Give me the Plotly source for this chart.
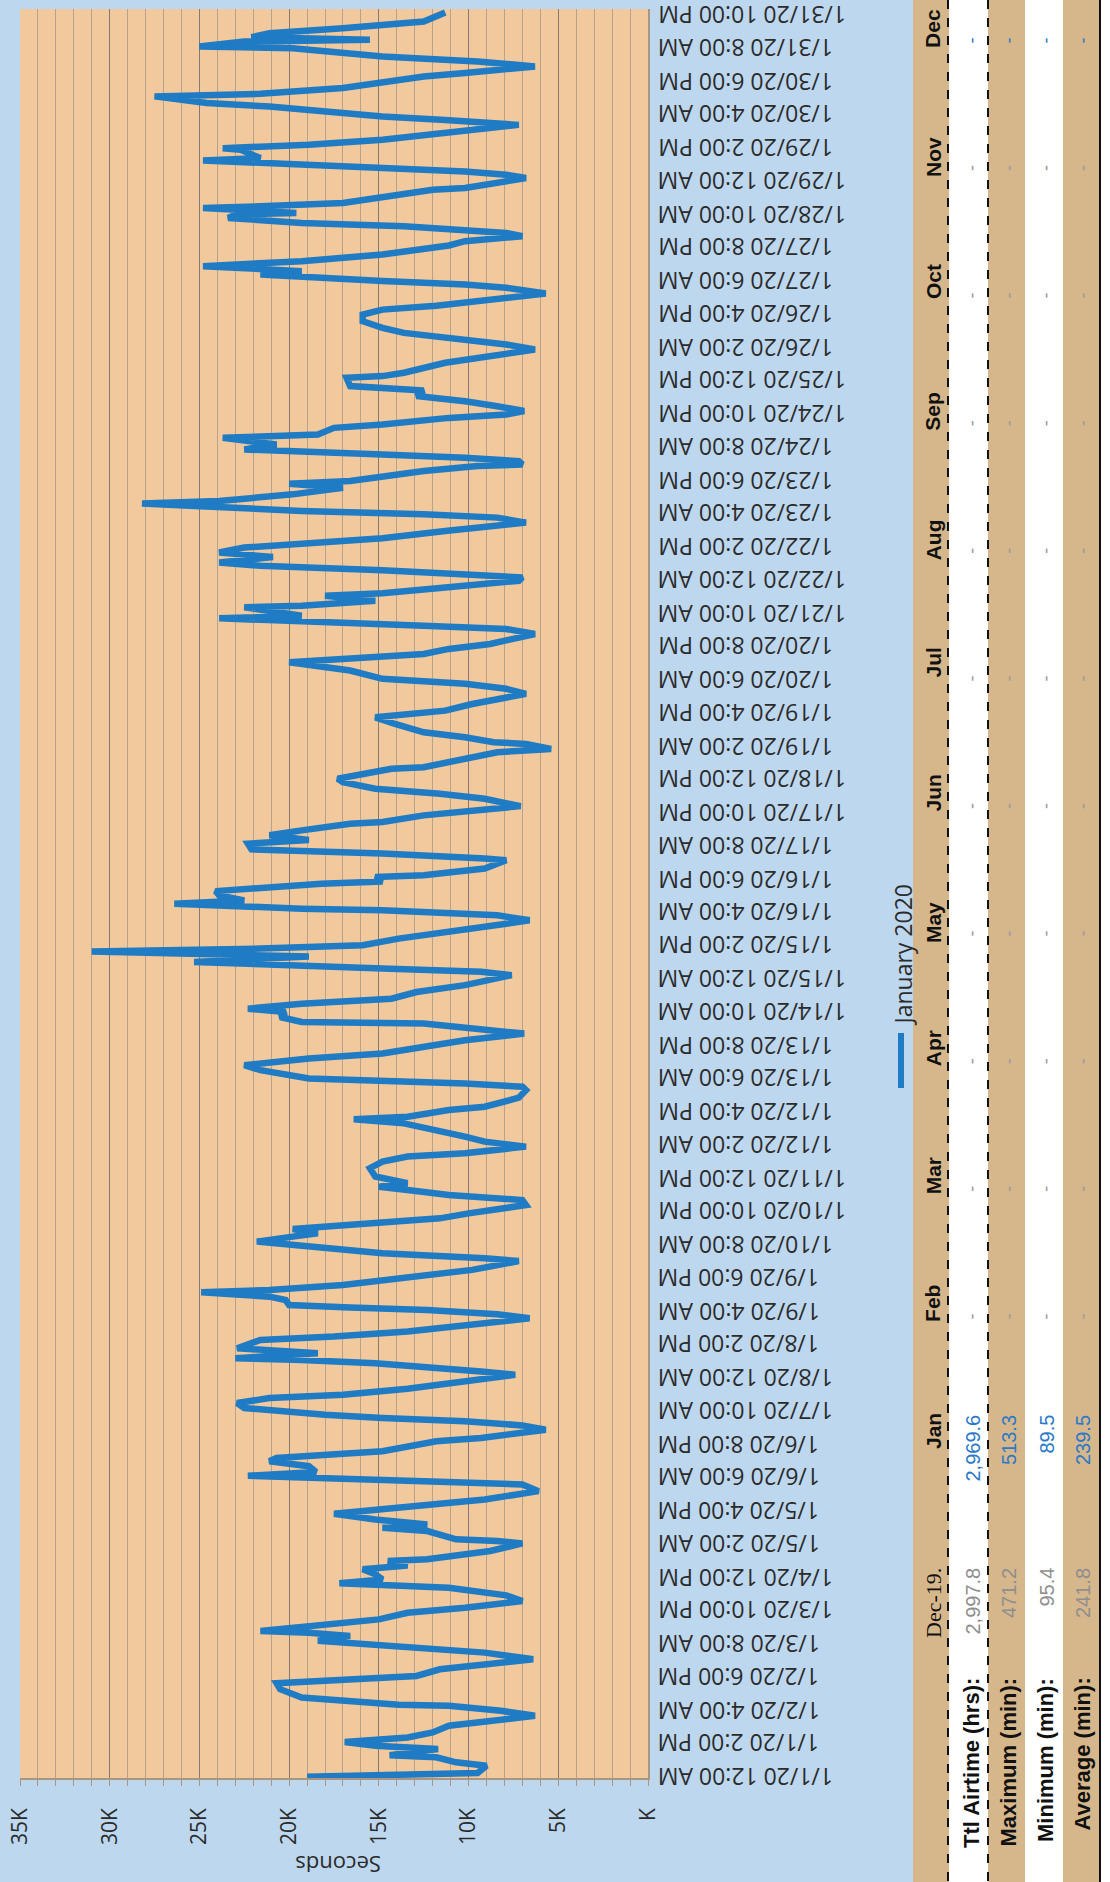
import pandas as pd
import plotly.graph_objects as go

# ---------------------------------------------------------------- data
START = pd.Timestamp("2020-01-01 00:00")

# hours after 1/1/20 12:00 AM and the airtime (seconds) read at that hour
hours = [
    0.0, 1.6, 4.7, 6.1, 8.2, 9.1, 11.7, 13.1, 14.7, 16.6, 18.7, 21.5, 25.7, 27.8, 29.9, 30.4,
    33.4, 36.9, 39.4, 40.4, 42.5, 45.3, 47.4, 49.5, 52.3, 53.7, 56.5, 57.3, 59.3, 60.7, 61.4,
    63.5, 66.3, 69.1, 71.2, 74.0, 76.4, 79.6, 80.5, 81.5, 83.1, 85.3, 87.4, 89.0, 90.9, 91.6,
    95.1, 98.3, 99.3, 100.0, 103.5, 104.9, 106.3, 108.4, 110.8, 112.6, 114.7, 116.8, 120.3,
    123.1, 124.5,
    126.8, 128.4, 130.8, 132.9, 134.3, 137.1, 140.1, 141.3, 142.7, 146.2, 148.0, 149.7, 151.1,
    152.5, 155.3, 157.4, 159.5, 160.9, 163.4, 166.5, 169.3, 170.7, 172.8, 174.2, 175.5, 176.3,
    178.4, 180.5, 184.0, 185.4, 187.5, 190.3, 193.1, 194.8, 196.6, 197.6, 198.7, 200.8, 202.2,
    204.1, 205.0, 207.1, 209.3, 212.1, 213.5, 217.2, 218.4, 220.5, 223.3, 225.4, 227.5, 228.9,
    230.7, 232.7, 235.2, 237.3, 240.8, 242.9, 245.0, 247.1, 248.5,
    250.0, 252.8, 256.3, 259.1, 261.2, 262.6, 265.4, 267.5, 269.6, 273.1, 275.2, 276.9, 278.0,
    280.8, 282.2, 286.0, 289.2, 290.6, 292.0, 294.1, 297.6, 299.7, 302.5, 304.6, 308.1, 310.2,
    313.0, 314.4, 317.2, 317.9, 320.0, 322.1, 323.5, 325.6, 327.7, 330.5, 333.4, 337.6, 339.0,
    340.4, 341.8, 343.2, 345.5, 347.6, 348.8, 350.2, 353.0, 356.5, 359.3, 360.7, 362.8, 364.9,
    365.6, 367.7, 369.1, 371.2, 373.0,
    376.1, 377.1, 378.9, 379.7, 382.5, 386.0, 386.7, 388.8, 390.6, 393.0, 394.5, 396.5, 398.6,
    401.4, 402.1, 404.9, 407.7, 408.8, 411.9, 414.0, 416.1, 418.9, 420.3, 422.4, 424.5, 425.2,
    431.5, 432.9, 435.0, 435.7, 437.8, 439.9, 442.0, 443.4, 446.2, 447.6, 449.0, 451.8, 456.1,
    458.2, 460.3, 462.4, 465.9, 469.4, 470.8, 472.9, 475.0, 477.1, 481.3, 483.4, 484.8, 486.9,
    487.9, 489.0, 492.5, 493.2, 495.3,
    497.4, 498.4, 500.9, 503.7, 505.1, 506.5, 508.1, 510.0, 511.4, 513.7, 515.6, 517.7, 519.4,
    521.6, 524.7, 528.2, 530.3, 531.7, 533.1, 534.5, 536.2, 537.3, 540.1, 542.9, 544.6, 545.7,
    549.9, 552.0, 552.7, 554.1, 555.5, 556.9, 559.0, 561.1, 563.9, 565.3, 568.1, 569.5, 572.3,
    573.7, 575.2, 577.2, 579.3, 581.5, 583.8, 585.7, 589.2, 589.9, 591.3, 595.5, 599.0, 601.1,
    603.2, 605.3, 608.1, 610.2, 613.0, 615.8, 617.9, 619.5, 621.0,
    624.7, 627.1, 628.5, 629.9, 632.7, 634.1, 636.2, 638.3, 641.1, 644.9, 646.7, 648.8, 650.2,
    653.0, 654.4, 656.5, 657.9, 658.6, 660.7, 661.4, 662.8, 668.4, 669.1, 673.3, 674.7, 676.1,
    678.9, 680.7, 681.7, 685.2, 685.9, 687.3, 689.4, 692.9, 695.7, 697.8, 699.2, 703.4, 704.9,
    707.7, 708.8, 711.2, 716.1, 717.5, 720.3, 722.4, 724.5, 728.0, 728.7, 730.8, 731.5, 732.6,
    734.3, 736.4, 739.2, 743.0,
]
seconds = [
    19000, 9500, 9000, 10700, 11800, 14400, 11700, 15200, 16900, 13400, 12000, 11100, 6300, 8200, 11100, 13900,
    19300, 20500, 20700, 18600, 12900, 11600, 9100, 6400, 9100, 12000, 16400, 18400, 16600, 18900, 21600,
    18600, 15000, 13400, 10200, 7000, 7900, 11100, 13400, 17200, 14800, 15200, 15900, 13400, 14500, 12300,
    8800, 7000, 8400, 10700, 12300, 14800, 12300, 15200, 17500, 14800, 11300, 9100, 6100,
    7000, 12500,
    22300, 18500, 18900, 21100, 20700, 14800, 12300, 11800, 9300, 5700, 7000, 10200, 14800,
    18000, 22500, 22900, 21100, 17000, 13400, 10200, 7400, 9300, 12900, 15200, 19300, 23000,
    18400, 22900, 21600, 17500, 13400, 10200, 6600, 8400, 12300, 16600, 20000, 20200, 21100,
    24900, 21100, 17000, 14300, 11100, 9800, 7200, 9100, 14800, 18900, 21800, 19800, 18400,
    19800, 16100, 11600, 10000, 6800, 7000, 11100, 13400, 15000,
    13400, 15200, 15500, 14800, 13400, 10200, 6800, 9100, 10200, 12500, 13600, 16400, 13400,
    11100, 9100, 7200, 6800, 7000, 10200, 18900, 21600, 22500, 18900, 14800, 11600, 10200,
    6900, 8600, 12500, 19300, 20500, 20200, 22300, 19300, 14300, 12900, 10200, 7600, 9300,
    14800, 19300, 25300, 18900, 31000, 21600, 15900, 13900, 10200, 7900, 6600, 8400, 14800,
    19300, 26400, 22500, 23900, 24100,
    18200, 14800, 15200, 12500, 9100, 7900, 9100, 14800, 22100, 22300, 18900, 21100, 19300,
    16600, 14800, 12500, 8600, 7100, 9100, 11600, 15200, 17000, 17300, 15900, 14300, 12500,
    8400, 5400, 6800, 8600, 10200, 12500, 13600, 14100, 15200, 13600, 11300, 9800, 6800,
    7900, 10200, 14800, 16600, 20000, 16600, 12500, 11100, 8800, 6300, 7900, 12500, 19300,
    23900, 19300, 22500, 19300, 15200,
    18000, 14800, 11300, 7200, 7000, 10200, 14800, 21600, 23900, 20900, 23900, 22500, 19300,
    14800, 11300, 6800, 8400, 12500, 19300, 23400, 28200, 23900, 19800, 17000, 20000, 16600,
    12500, 9500, 7000, 7200, 10200, 14800, 22500, 20700, 23700, 18400, 17500, 14800, 11100,
    7900, 6900, 8400, 10200, 12900, 12500, 16600, 16800, 14800, 13600, 11300, 7900, 6300,
    7900, 10200, 13600, 14800, 15900, 15900, 14800, 11800, 10200,
    5700, 7900, 10200, 14800, 21600, 19300, 24800, 19300, 14800, 11100, 10200, 7000, 7900,
    13600, 19300, 23400, 23000, 19600, 24800, 21600, 17000, 12000, 10200, 6800, 7900, 10200,
    19300, 24800, 21600, 22700, 23700, 18900, 14800, 10200, 7200, 11300, 14800, 21100, 24600,
    27500, 21600, 17000, 12500, 10200, 6300, 9500, 14800, 19800, 25000, 22500, 15500, 22100,
    21100, 17000, 12500, 11300,
]

x_tick_vals = [0, 5000, 10000, 15000, 20000, 25000, 30000, 35000]
x_tick_text = ["K", "5K", "10K", "15K", "20K", "25K", "30K", "35K"]
x_minor_vals = [v * 1000 for v in range(0, 36)]

date_label_step_h = 14
date_label_count = 54

series_name = "January 2020"
axis_title = "Seconds"

months = ["Dec-19.", "Jan", "Feb", "Mar", "Apr", "May", "Jun",
          "Jul", "Aug", "Sep", "Oct", "Nov", "Dec"]
row_names = ["Ttl Airtime (hrs):", "Maximum (min):", "Minimum (min):", "Average (min):"]
dec19_values = ["2,997.8", "471.2", "95.4", "241.8"]
jan_values = ["2,969.6", "513.3", "89.5", "239.5"]

# ---------------------------------------------------------------- geometry
W, H = 1110, 1882
PL, PR, PT, PB = 20, 648, 9, 1778          # plot area edges in page pixels


def px(x):
    return (x - PL) / (PR - PL)


def py(y):
    return (PB - y) / (PB - PT)


PAGE_BLUE = "#bdd7ee"
PLOT_TAN = "#f2c99c"
TABLE_TAN = "#d6b78c"
LINE_BLUE = "#1f7bc4"
GRID_MINOR = "#b5a38f"
GRID_MAJOR = "#857a73"
AXIS_COL = "#a89682"
TEXT_COL = "#2b2b2b"
SANS = "Open Sans, Liberation Sans, sans-serif"
TABLE_SANS = "Liberation Sans, Arial, sans-serif"
SERIF = "Liberation Serif, Times New Roman, serif"

times = START + pd.to_timedelta(hours, unit="h")

fig = go.Figure()
fig.add_trace(go.Scatter(
    x=seconds, y=times, mode="lines", name=series_name,
    line=dict(color=LINE_BLUE, width=6.5), showlegend=False,
))

annotations = []
shapes = []

# time labels beside the plot (printed turned over)
label_times = pd.date_range(START, periods=date_label_count, freq=f"{date_label_step_h}h")
for t in label_times:
    hr12 = t.hour % 12 or 12
    txt = f"{t.month}/{t.day}/{t:%y} {hr12}:{t:%M} {'AM' if t.hour < 12 else 'PM'}"
    annotations.append(dict(
        x=px(656), xref="paper", xanchor="left",
        y=t.strftime("%Y-%m-%d %H:%M"), yref="y", yanchor="middle",
        text=txt, textangle=180, showarrow=False,
        font=dict(family=SANS, size=23, color=TEXT_COL),
    ))

# value axis title
annotations.append(dict(
    x=px(338), y=py(1865), xref="paper", yref="paper",
    xanchor="center", yanchor="middle",
    text=axis_title, textangle=180, showarrow=False,
    font=dict(family=SANS, size=22, color=TEXT_COL),
))

# legend entry
shapes.append(dict(type="line", xref="paper", yref="paper",
                   x0=px(901), x1=px(901), y0=py(1033), y1=py(1088),
                   line=dict(color=LINE_BLUE, width=6)))
annotations.append(dict(
    x=px(902), y=py(1028), xref="paper", yref="paper",
    xanchor="center", yanchor="bottom",
    text=series_name, textangle=-90, showarrow=False,
    font=dict(family=SANS, size=23, color=TEXT_COL),
))

# ---------------------------------------------------------------- summary table
strips = [(913, 949, TABLE_TAN), (949, 988, "#ffffff"), (988, 1025, TABLE_TAN),
          (1025, 1063, "#ffffff"), (1063, 1100, TABLE_TAN), (1100, 1110, "#ffffff")]
for x0, x1, col in strips:
    shapes.append(dict(type="rect", xref="paper", yref="paper",
                       x0=px(x0), x1=px(x1), y0=py(0), y1=py(H),
                       fillcolor=col, line=dict(width=0), layer="below"))
for xd in (948, 988):
    shapes.append(dict(type="line", xref="paper", yref="paper",
                       x0=px(xd), x1=px(xd), y0=py(0), y1=py(H),
                       line=dict(color="#111111", width=2, dash="dash")))
shapes.append(dict(type="line", xref="paper", yref="paper",
                   x0=px(1100), x1=px(1100), y0=py(0), y1=py(H),
                   line=dict(color="#111111", width=2)))

row_x = [972, 1009, 1046, 1083]
header_x = 933

col_tops = [1566, 1411] + [1411 - 127.6 * k for k in range(1, 12)]
for i, (m, top) in enumerate(zip(months, col_tops)):
    if i == 0:
        fnt = dict(family=SERIF, size=22, color="#111111")
        txt = m
    else:
        fnt = dict(family=TABLE_SANS, size=21, color="#111111")
        txt = f"<b>{m}</b>"
    annotations.append(dict(x=px(header_x), y=py(top), xref="paper", yref="paper",
                            xanchor="center", yanchor="top", text=txt, textangle=-90,
                            showarrow=False, font=fnt))
    for r, xr in enumerate(row_x):
        if i == 0:
            annotations.append(dict(x=px(xr), y=py(top), xref="paper", yref="paper",
                                    xanchor="center", yanchor="top",
                                    text=dec19_values[r], textangle=-90, showarrow=False,
                                    font=dict(family=TABLE_SANS, size=20, color="#8e8e8e")))
        elif i == 1:
            annotations.append(dict(x=px(xr), y=py(top + 2), xref="paper", yref="paper",
                                    xanchor="center", yanchor="top",
                                    text=jan_values[r], textangle=-90, showarrow=False,
                                    font=dict(family=TABLE_SANS, size=20, color="#2a78c8")))
        else:
            dash_col = "#2a78c8" if m == "Dec" else "#9a9a9a"
            annotations.append(dict(x=px(xr), y=py(top + 33), xref="paper", yref="paper",
                                    xanchor="center", yanchor="middle",
                                    text="-", textangle=-90, showarrow=False,
                                    font=dict(family=TABLE_SANS, size=18, color=dash_col)))

for r, name in enumerate(row_names):
    annotations.append(dict(x=px(row_x[r] - 1), y=py(1676), xref="paper", yref="paper",
                            xanchor="center", yanchor="top",
                            text=f"<b>{name}</b>", textangle=-90, showarrow=False,
                            font=dict(family=TABLE_SANS, size=22, color="#111111")))

# ---------------------------------------------------------------- layout
fig.update_layout(
    template="none",
    width=W, height=H,
    margin=dict(l=PL, r=W - PR, t=PT, b=H - PB, pad=0),
    paper_bgcolor=PAGE_BLUE,
    plot_bgcolor=PLOT_TAN,
    showlegend=False,
    xaxis=dict(
        range=[35000, 0], tickvals=x_tick_vals, ticktext=x_tick_text,
        tickangle=-90, tickfont=dict(family=SANS, size=21, color=TEXT_COL),
        showgrid=True, gridcolor=GRID_MAJOR, gridwidth=1.2,
        ticks="outside", ticklen=6, tickcolor=AXIS_COL, tickwidth=1,
        ticklabelstandoff=14,
        minor=dict(tickvals=x_minor_vals, showgrid=True, gridcolor=GRID_MINOR, gridwidth=1,
                   ticks="outside", ticklen=6, tickcolor=AXIS_COL),
        showline=True, linecolor=AXIS_COL, linewidth=1.5,
        zeroline=False, automargin=False, fixedrange=True,
    ),
    yaxis=dict(
        type="date",
        range=[START - pd.Timedelta(minutes=30), START + pd.Timedelta(hours=744.5)],
        showticklabels=False, showgrid=False, ticks="",
        side="right", showline=True, linecolor=AXIS_COL, linewidth=1.5,
        zeroline=False, automargin=False, fixedrange=True,
    ),
    annotations=annotations,
    shapes=shapes,
)

fig.write_html("out.html")
